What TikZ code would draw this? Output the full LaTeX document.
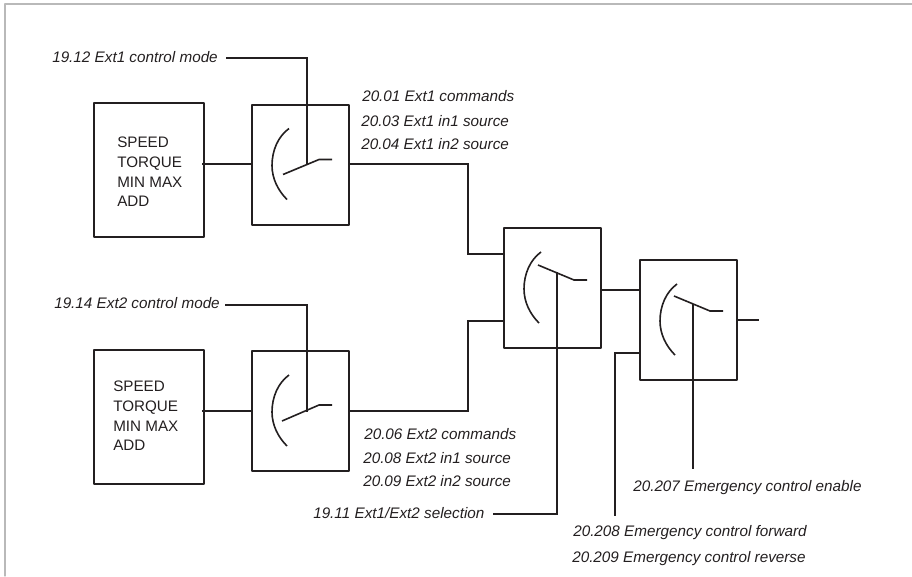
\documentclass[tikz,border=0pt]{standalone}
\usepackage{fontspec}
\setmainfont{Liberation Sans}
\definecolor{ink}{HTML}{231F20}
\tikzset{
	wire/.style={draw=ink,line width=1.4pt,line join=miter,line cap=rect},
	heavywire/.style={wire,line width=2.2pt},
	srcbox/.style={draw=ink,line width=1.5pt,inner sep=0pt,outer sep=0pt,anchor=north west,minimum width=82.5pt,minimum height=100.5pt},
	swbox/.style={draw=ink,line width=1.5pt,inner sep=0pt,outer sep=0pt,anchor=north west,minimum width=72.75pt,minimum height=90pt},
	param/.style={font=\fontsize{11.45}{13}\selectfont\itshape,text=ink,inner sep=0pt,anchor=base west},
	modes/.style={font=\fontsize{11.4}{14.75}\selectfont,text=ink,inner sep=0pt,anchor=west,align=left},
}
\begin{document}
\begin{tikzpicture}[x=0.75pt,y=-0.75pt,line join=round,line cap=round]
	\useasboundingbox (0,0) rectangle (912,576);
	\draw[gray!55,line width=0.9pt] (5,576)--(5,4)--(912,4);
	% blocks
	\node[srcbox] (srcA) at (93.5,103) {};
	\node[srcbox] (srcB) at (93.5,350) {};
	\node[swbox] (swA) at (252,104.5) {};
	\node[swbox] (swB) at (252,351) {};
	\node[swbox] (swC) at (504,228) {};
	\node[swbox] (swD) at (640,260) {};
	\node[modes] (modesA) at (117,172) {SPEED\\TORQUE\\MIN MAX\\ADD};
	\node[modes] (modesB) at (113,416) {SPEED\\TORQUE\\MIN MAX\\ADD};
	\path
	(227,58) coordinate (ctrlA)
	(226,305) coordinate (ctrlB)
	(494,514) coordinate (ctrlC)
	(693,468) coordinate (ctrlD)
	(615,515) coordinate (ctrlE)
	(307,164) coordinate (armA)
	(307,411) coordinate (armB)
	(557,273) coordinate (armC)
	(693,305) coordinate (armD)
	(468,254) coordinate (inCa)
	(468,321) coordinate (inCb)
	(600,290) coordinate (outC)
	(640,353) coordinate (inDb)
	(737,320) coordinate (outD)
	(758,320) coordinate (endD)
	;
	% switch symbols
	\foreach \sw/\xa/\ya/\xb/\yb in {swA/31/70/67/55,swB/30/70/67/54,swC/34/37/70/52,swD/34/36/70/51}
	{
		\draw[wire,line width=1.2pt,line cap=butt,shift={(\sw.north west)}] (37,24) .. controls (26,32) and (20,46) .. (20,61) .. controls (20,74) and (26,86) .. (35,95);
		\draw[wire,line width=1.2pt,line cap=butt,line join=round,shift={(\sw.north west)}] (\xa,\ya)--(\xb,\yb)--(\xb+13,\yb);
	}
	% connectors
	\draw[heavywire] (srcA.east |- armA)--(swA.west |- armA);
	\draw[heavywire] (srcB.east |- armB)--(swB.west |- armB);
	\draw[wire] (ctrlA)-|(armA);
	\draw[wire] (ctrlB)-|(armB);
	\draw[wire] (swA.east |- armA)-|(inCa)--(swC.west |- inCa);
	\draw[wire] (swB.east |- armB)-|(inCb)--(swC.west |- inCb);
	\draw[wire] (ctrlC)-|(armC);
	\draw[wire] (swC.east |- outC)--(swD.west |- outC);
	\draw[wire] (ctrlD)--(armD);
	\draw[wire] (ctrlE)|-(inDb);
	\draw[wire] (swD.east |- outD)--(endD);
	\draw[heavywire] (ctrlD |- swD.south)--++(28,0);
	% labels
	\foreach \name/\x/\y/\txt in {
		lblA/52/62/{19.12 Ext1 control mode},
		lblB/54/308/{19.14 Ext2 control mode},
		lblC/362/101/{20.01 Ext1 commands},
		lblD/361/126/{20.03 Ext1 in1 source},
		lblE/361/149/{20.04 Ext1 in2 source},
		lblF/364/439/{20.06 Ext2 commands},
		lblG/363/463/{20.08 Ext2 in1 source},
		lblH/363/486/{20.09 Ext2 in2 source},
		lblI/313/518/{19.11 Ext1/Ext2 selection},
		lblJ/633/491/{20.207 Emergency control enable},
		lblK/573/536/{20.208 Emergency control forward},
		lblL/572/562/{20.209 Emergency control reverse}}
	\node[param] (\name) at (\x,\y) {\txt};
\end{tikzpicture}
\end{document}
